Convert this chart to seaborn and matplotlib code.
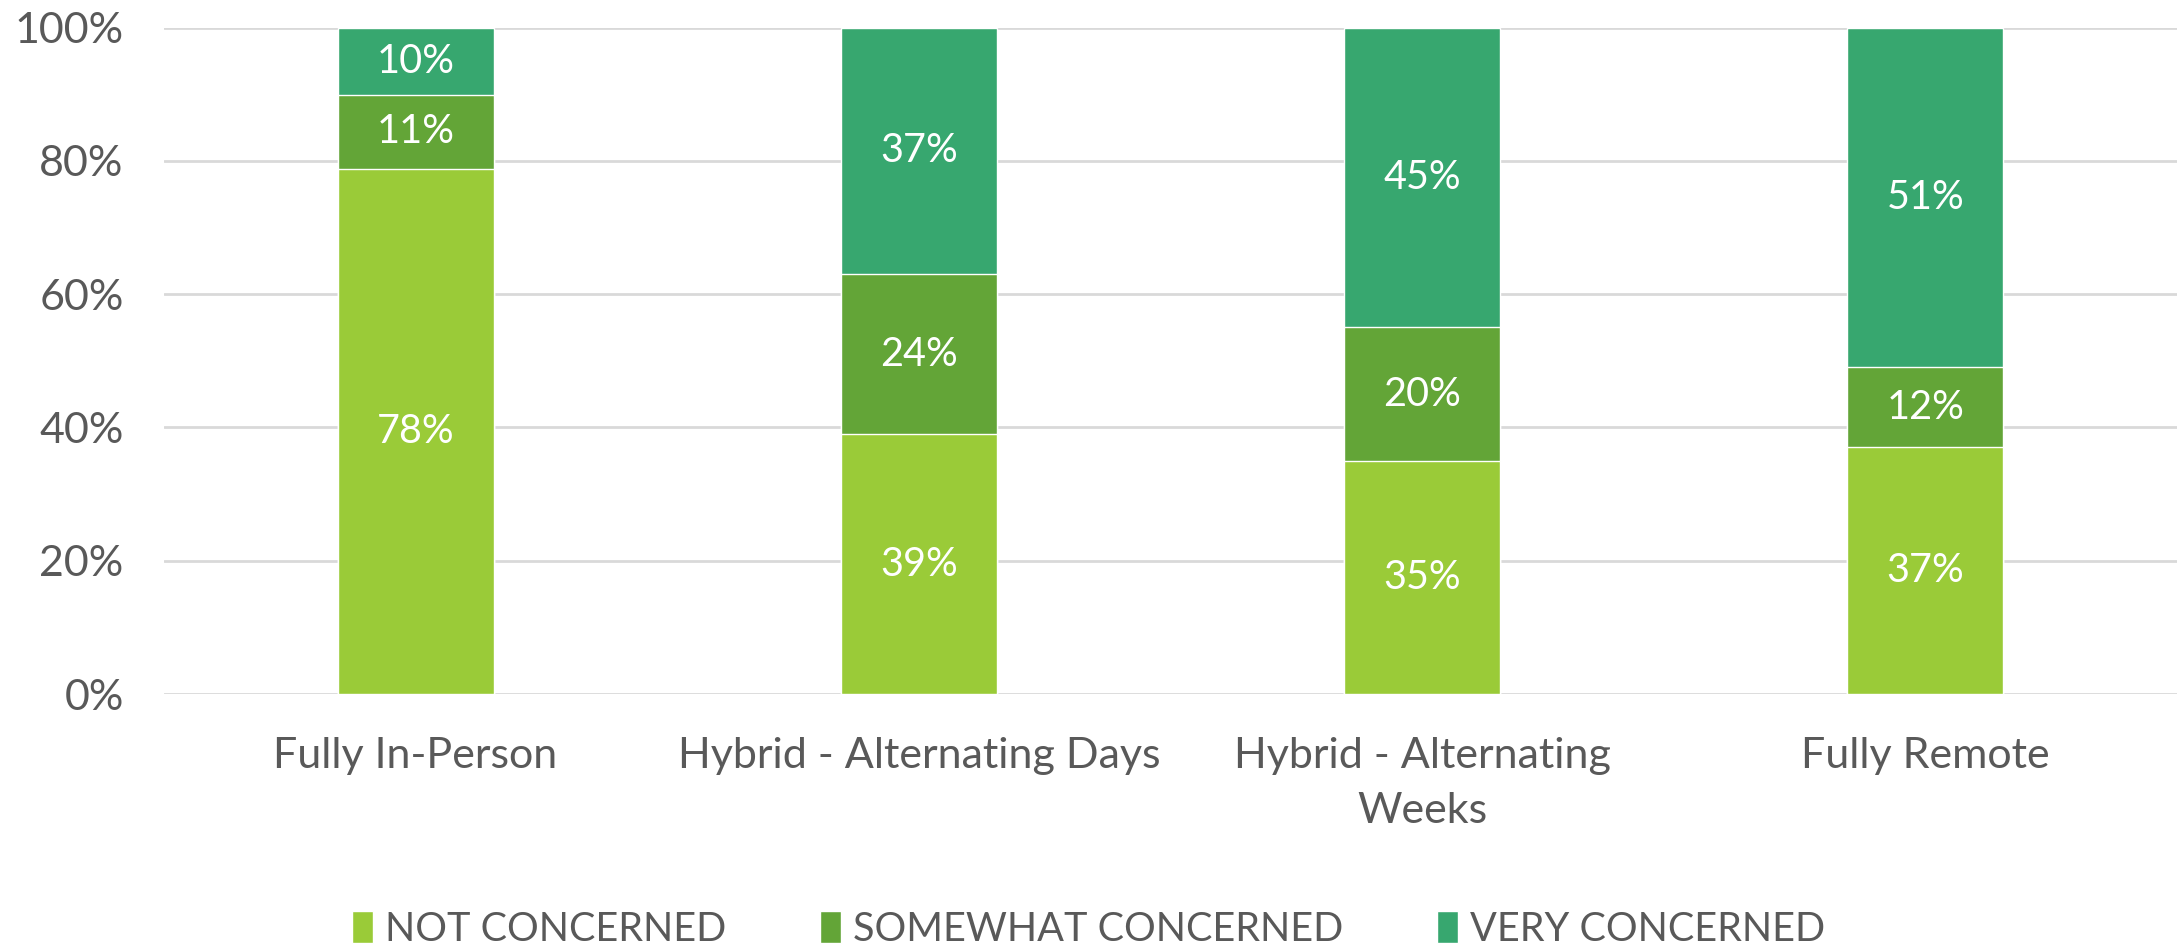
import pandas as pd
import numpy as np
import matplotlib
matplotlib.use("Agg")
import matplotlib.pyplot as plt
import seaborn as sns

# data
categories = ["Fully In-Person", "Hybrid - Alternating Days", "Hybrid - Alternating\nWeeks", "Fully Remote"]
not_concerned = [78, 39, 35, 37]
somewhat_concerned = [11, 24, 20, 12]
very_concerned = [10, 37, 45, 51]

series_names = ["NOT CONCERNED", "SOMEWHAT CONCERNED", "VERY CONCERNED"]
colors = ["#9ACB38", "#63A537", "#37A76F"]
text_color = "#595959"

sns.set_style("white")
plt.rcParams["font.family"] = ["Lato", "DejaVu Sans"]

df = pd.DataFrame({"category": categories,
                   series_names[0]: not_concerned,
                   series_names[1]: somewhat_concerned,
                   series_names[2]: very_concerned})
totals = df[series_names].sum(axis=1)
# 100% stacked: normalise each column to its total
share = df[series_names].div(totals, axis=0) * 100
cum = share.cumsum(axis=1)

fig = plt.figure(figsize=(21.77, 9.52), dpi=100)
ax = fig.add_axes([0.0753, 0.271, 0.9247, 0.700])

# draw the tallest cumulative first so lower segments sit on top
for name, col in reversed(list(zip(series_names, colors))):
    sns.barplot(x=df["category"], y=cum[name], color=col, width=0.31,
                saturation=1, ax=ax, label=name, zorder=3)

# data labels in the middle of each segment
for i in range(len(df)):
    bottom = 0
    for name in series_names:
        h = share.loc[i, name]
        ax.text(i, bottom + h / 2, f"{df.loc[i, name]}%", ha="center", va="center",
                color="white", fontsize=28.5, zorder=4)
        bottom += h

ax.set_ylim(0, 100)
ax.set_xlim(-0.5, len(df) - 0.5)
ax.set_yticks(np.arange(0, 101, 20))
ax.set_yticklabels([f"{v}%" for v in range(0, 101, 20)])
ax.yaxis.grid(True, color="#D9D9D9", linewidth=2, zorder=0)
ax.set_axisbelow(True)
for s in ax.spines.values():
    s.set_visible(False)
ax.tick_params(axis="both", length=0, colors=text_color, labelsize=31)
ax.tick_params(axis="y", pad=29)
ax.tick_params(axis="x", pad=31)
for t in ax.get_xticklabels():
    t.set_linespacing(1.55)
ax.set_xlabel("")
ax.set_ylabel("")

handles, labels = ax.get_legend_handles_labels()
order = [labels.index(n) for n in series_names]
fig.legend([handles[k] for k in order], [labels[k] for k in order],
           loc="center", bbox_to_anchor=(0.5, 0.024), ncol=3, frameon=False,
           fontsize=28.5, labelcolor=text_color, handlelength=0.55, handleheight=0.85,
           handletextpad=0.3, columnspacing=2.35)
if ax.get_legend() is not None:
    ax.get_legend().remove()

fig.savefig("out.png", dpi=100)
